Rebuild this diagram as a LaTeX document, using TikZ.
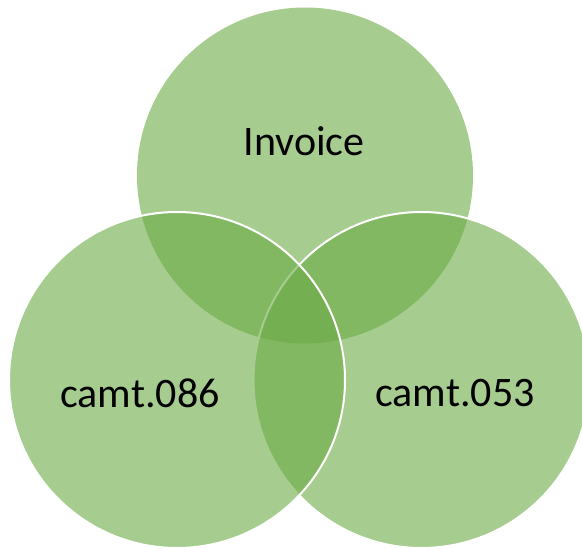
\documentclass[tikz,border=0pt]{standalone}
\usepackage{fontspec}
\setmainfont{Carlito}
\definecolor{venn}{HTML}{6BAA45}
\begin{document}
\begin{tikzpicture}[x=1pt,y=-1pt,
  circ/.style={fill=venn,fill opacity=0.6},
  circw/.style={circ,draw=white,line width=2pt},
  lbl/.style={font=\fontsize{42}{44}\selectfont,text=black}]
\useasboundingbox (0,0) rectangle (582,549);
\begin{scope}
\clip (0,0) rectangle (582,549);
\fill[circ] (305,175.5) circle[radius=168];
\filldraw[circw] (421.5,380) circle[radius=168];
\filldraw[circw] (177,380) circle[radius=168];
\end{scope}
\node[lbl] (inv) at (304,141) {Invoice};
\node[lbl] (c86) at (140,393) {camt.086};
\node[lbl] (c53) at (455,393) {camt.053};
\end{tikzpicture}
\end{document}
